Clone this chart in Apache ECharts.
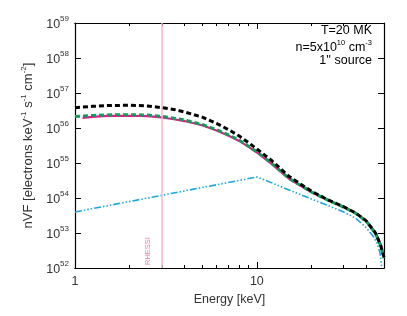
<!DOCTYPE html>
<html><head><meta charset="utf-8">
<script src="https://cdn.jsdelivr.net/npm/echarts@6/dist/echarts.min.js"></script>
<style>html,body{margin:0;padding:0;background:#fff}#c{width:407px;height:316px}</style>
</head><body><div id="c"></div>
<script>
// Energy grid (keV)
const energy = [1,1.25,1.5,2,2.5,3,3.5,4,5,6,7,8,9,10,12,15,20,25,30,35,40,45,48,50];
// Black dashed (total)
const blackTotal = [3.80e56,4.17e56,4.37e56,4.47e56,4.27e56,3.80e56,3.39e56,2.88e56,2.04e56,1.35e56,8.91e55,5.89e55,3.80e55,2.51e55,1.20e55,4.17e54,1.55e54,8.51e53,5.62e53,3.72e53,2.19e53,9.77e52,4.27e52,2.0e52];
// Green dashed
const greenFit = [2.14e56,2.29e56,2.37e56,2.40e56,2.34e56,2.14e56,1.91e56,1.70e56,1.26e56,8.91e55,6.31e55,4.47e55,3.02e55,2.09e55,1.0e55,3.63e54,1.48e54,8.32e53,5.50e53,3.63e53,2.14e53,9.55e52,4.17e52,1.91e52];
// Magenta solid
const magentaEnergy = [1.1,1.25,1.5,2,2.5,3,3.5,4,5,6,7,8,9,10,12,15,20,25,30,35,40,45,48,50];
const magentaVals = [1.95e56,2.09e56,2.21e56,2.24e56,2.19e56,2.0e56,1.78e56,1.58e56,1.20e56,8.51e55,6.03e55,4.27e55,2.88e55,2.0e55,9.55e54,3.55e54,1.45e54,8.32e53,5.62e53,3.72e53,2.24e53,1.02e53,4.68e52,2.24e52];
// Cyan dash-dot
const cyanEnergy = [1,10,12,15,20,25,30,35,40,44,46,47.5,48.6];
const cyanVals = [3.98e53,3.98e54,2.75e54,1.70e54,9.33e53,5.89e53,3.98e53,2.63e53,1.41e53,7.59e52,4.79e52,2.75e52,1.0e52];
// Ticks
const xMajor = [1,10];
const xMinor = [2,3,4,5,6,7,8,9,20,30,40];
const yMajor = [1e52,1e53,1e54,1e55,1e56,1e57,1e58,1e59];
const rhessiE = 3;
const notes = ['{n|T=20 MK}', '{n|n=5x10}{s|10}{n| cm}{s|-3}', "{n|1'' source}"];

const pair = (xs, ys) => xs.map((x, i) => [x, ys[i]]);
const FONT = 'Liberation Sans';
const txt = '#333';

function xAxisDef(pos, ticks, len, labels) {
  return {
    type: 'log', logBase: 10, min: 1, max: 50, position: pos, gridIndex: 0,
    axisLine: { show: true, lineStyle: { color: '#000', width: 1.2 } },
    axisTick: { show: true, inside: true, length: len, customValues: ticks, lineStyle: { color: '#000', width: 1 } },
    axisLabel: labels ? { show: true, customValues: xMajor, margin: 7, color: txt, fontFamily: FONT, fontSize: 12.5 } : { show: false },
    splitLine: { show: false }, minorTick: { show: false },
    name: labels ? 'Energy [keV]' : '', nameLocation: 'middle', nameGap: 25,
    nameTextStyle: { color: txt, fontFamily: FONT, fontSize: 12.5 }
  };
}
function yAxisDef(pos, labels) {
  return {
    type: 'log', logBase: 10, min: 1e52, max: 1e59, position: pos,
    axisLine: { show: true, lineStyle: { color: '#000', width: 1.2 } },
    axisTick: { show: true, inside: true, length: 6, customValues: yMajor, lineStyle: { color: '#000', width: 1 } },
    axisLabel: labels ? {
      show: true, customValues: yMajor, margin: 6, color: txt, fontFamily: FONT,
      formatter: v => '{b|10}{s|' + Math.round(Math.log10(v)) + '}',
      rich: { b: { fontSize: 12.5, fontFamily: FONT, color: txt, lineHeight: 16, verticalAlign: 'bottom' },
              s: { fontSize: 8, fontFamily: FONT, color: txt, verticalAlign: 'top', lineHeight: 16 } }
    } : { show: false },
    splitLine: { show: false },
    name: labels ? '{n|nVF [electrons keV}{s|-1}{n| s}{s|-1}{n| cm}{s|-2}{n|]}' : '',
    nameLocation: 'middle', nameGap: 39, nameRotate: 90,
    nameTextStyle: { rich: { n: { fontSize: 13, fontFamily: FONT, color: txt, lineHeight: 16, verticalAlign: 'bottom' },
                             s: { fontSize: 8, fontFamily: FONT, color: txt, verticalAlign: 'top', lineHeight: 16 } } }
  };
}
const noteRich = { n: { fontSize: 12.5, fontFamily: FONT, color: '#555', lineHeight: 15, verticalAlign: 'bottom' },
                   s: { fontSize: 7.5, fontFamily: FONT, color: '#555', lineHeight: 15, verticalAlign: 'top' } };

const chart = echarts.init(document.getElementById('c'), null, { renderer: 'canvas' });
chart.setOption({
  animation: false,
  backgroundColor: '#fff',
  grid: { left: 75, right: 23, top: 23, bottom: 48 },
  xAxis: [
    xAxisDef('bottom', xMajor, 6, true),
    xAxisDef('bottom', xMinor, 3, false),
    xAxisDef('top', xMajor, 6, false),
    xAxisDef('top', xMinor, 3, false)
  ],
  yAxis: [yAxisDef('left', true), yAxisDef('right', false)],
  graphic: notes.map((t, i) => ({
    type: 'text', right: 35, top: 24 + i * 15,
    style: { text: t, rich: noteRich }
  })),
  series: [
    { type: 'line', data: pair(cyanEnergy, cyanVals), symbol: 'none', z: 2,
      lineStyle: { color: '#1aa6e0', width: 1.6, type: [7, 2, 1.5, 2, 1.5, 2, 1.5, 2] },
      markLine: { silent: true, symbol: 'none', animation: false,
        data: [{ xAxis: rhessiE }],
        lineStyle: { color: '#f9b6c4', width: 1.5, type: 'solid' },
        label: { show: true, formatter: 'RHESSI', position: 'insideStartTop', distance: [3, 10],
                 color: '#f07e98', fontSize: 7.5, fontFamily: FONT } } },
    { type: 'line', data: pair(magentaEnergy, magentaVals), symbol: 'none', z: 3,
      lineStyle: { color: '#e3198c', width: 2.2, type: 'solid' } },
    { type: 'line', data: pair(energy, greenFit), symbol: 'none', z: 4,
      lineStyle: { color: '#0f9e5a', width: 3, type: [5, 3] } },
    { type: 'line', data: pair(energy, blackTotal), symbol: 'none', z: 5,
      lineStyle: { color: '#000', width: 3, type: [5, 3] } }
  ]
});
</script></body></html>
